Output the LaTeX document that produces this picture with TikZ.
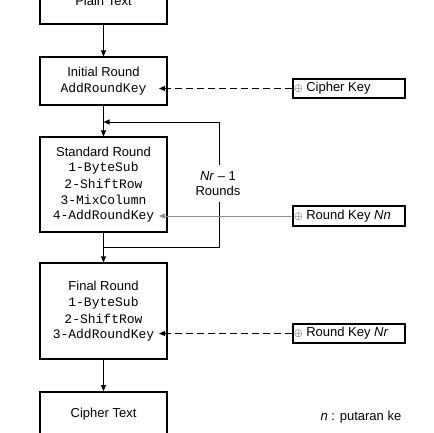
\documentclass[tikz,border=0pt]{standalone}
\usepackage{fontspec}
\setmainfont{Liberation Sans}
\setmonofont{Liberation Mono}
\usetikzlibrary{arrows.meta}
\newcommand\diagfont{\fontsize{13pt}{15pt}\selectfont}
\newcommand\diagmono{\fontsize{13pt}{15pt}\selectfont\ttfamily}
\newcommand\plussym{{\fontsize{11pt}{11pt}\selectfont$\oplus$}}
\begin{document}
\begin{tikzpicture}[x=1pt,y=-1pt,
  box/.style={draw, line width=1.1pt, minimum width=127pt, inner sep=0pt},
  bigbox/.style={box, line width=1.8pt},
  keybox/.style={draw, line width=1.1pt, minimum width=112pt, inner sep=0pt},
  txt/.style={inner sep=1.5pt, font=\diagfont},
  mono/.style={inner sep=1.5pt, font=\diagmono},
  conn/.style={line width=1pt},
  arr/.style={conn, -{Triangle[length=6pt,width=5pt]}},
  dsh/.style={arr, dash pattern=on 7pt off 4pt},
  thinarr/.style={-{Triangle[length=6pt,width=5pt]}, line width=0.6pt, black!45},
]
\useasboundingbox (0,0) rectangle (433,433);

% main boxes
\node[bigbox, minimum height=54pt] (plain) at (103.5,-3) {};
\node[box, minimum height=48pt] (init) at (103.5,81) {};
\node[box, minimum height=95pt] (std) at (103.5,184.5) {};
\node[box, minimum height=96pt] (final) at (103.5,311) {};
\node[bigbox, minimum height=68pt] (ctext) at (103.5,426) {};

% key boxes
\node[keybox, minimum height=19pt] (ckey) at (349,88.5) {};
\node[keybox, minimum height=20pt] (rkn) at (349,216) {};
\node[keybox, minimum height=19pt] (rkr) at (349,333.5) {};

% texts
\node[txt, anchor=base] (pt) at (103.5,6) {Plain Text};
\node[txt] (ir1) at (103.5,72) {Initial Round};
\node[mono] (ir2) at (103.5,89) {AddRoundKey};
\node[txt] (sr0) at (103.5,152) {Standard Round};
\node[mono] (sr1) at (103.5,168) {1-ByteSub};
\node[mono] (sr2) at (103.5,184) {2-ShiftRow};
\node[mono] (sr3) at (103.5,200) {3-MixColumn};
\node[mono] (sr4) at (103.5,216) {4-AddRoundKey};
\node[txt] (fr0) at (103.5,286) {Final Round};
\node[mono] (fr1) at (103.5,303) {1-ByteSub};
\node[mono] (fr2) at (103.5,319) {2-ShiftRow};
\node[mono] (fr3) at (103.5,335) {3-AddRoundKey};
\node[txt] (ct) at (103.5,414) {Cipher Text};

\node[txt, anchor=west] (ck) at (ckey.west) {\plussym{} Cipher Key};
\node[txt, anchor=west] (rn) at (rkn.west) {\plussym{} Round Key \textit{Nn}};
\node[txt, anchor=west] (rr) at (rkr.west) {\plussym{} Round Key \textit{Nr}};

\node[txt] (nr) at (218,176) {\textit{Nr} -- 1};
\node[txt] (rnds) at (218,191) {Rounds};
\node[txt, anchor=east] (note) at (403,417) {\textit{n} : putaran ke};

% coordinates
\coordinate (jt) at (103.5,122);
\coordinate (jb) at (103.5,247);
\coordinate (lt) at (219,122);
\coordinate (lb) at (219,247);
\coordinate (ltop) at (219,165);
\coordinate (lbot) at (219,202);
\coordinate (tip1) at (159,88.5);
\coordinate (tip2) at (159,216);
\coordinate (tip3) at (159,333.5);

% connectors
\draw[arr] (plain.south) -- (init.north);
\draw[arr] (init.south) -- (std.north);
\draw[arr] (std.south) -- (final.north);
\draw[arr] (final.south) -- (ctext.north);
\draw[arr] (ltop) -- (lt) -- (jt);
\draw[conn] (jb) -- (lb) -- (lbot);
\draw[dsh] (ckey.west) -- (tip1);
\draw[thinarr] (rkn.west) -- (tip2);
\draw[dsh] (rkr.west) -- (tip3);
\end{tikzpicture}
\end{document}
